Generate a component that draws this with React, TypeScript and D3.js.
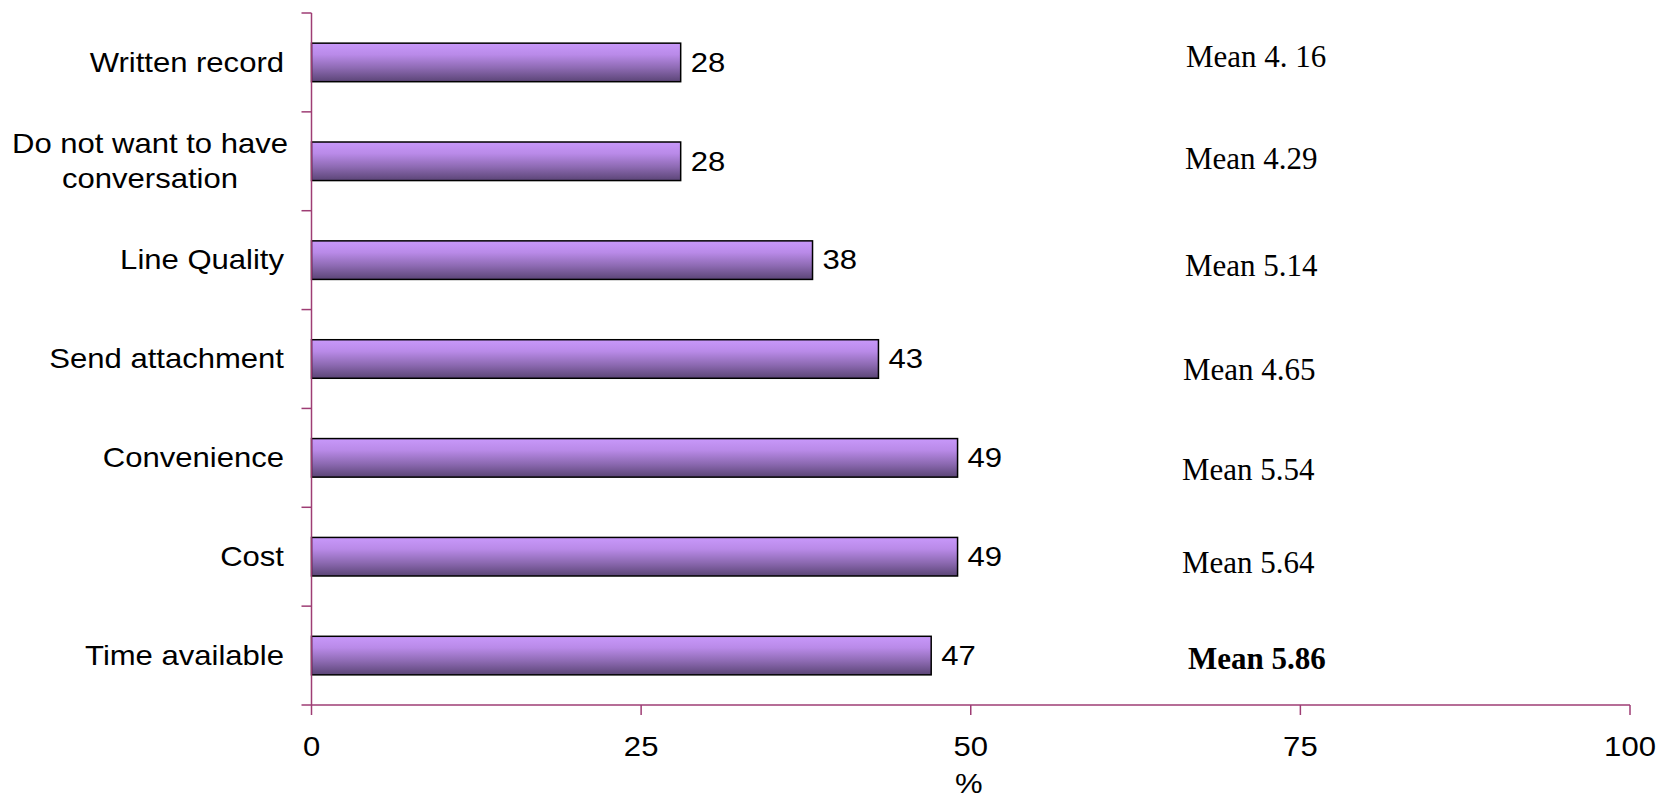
import React from "react";
import * as d3 from "d3";

const categoryLines: string[][] = [
  ["Written record"],
  ["Do not want to have", "conversation"],
  ["Line Quality"],
  ["Send attachment"],
  ["Convenience"],
  ["Cost"],
  ["Time available"],
];
const values = [28, 28, 38, 43, 49, 49, 47];
const meanLabels = [
  "Mean 4. 16",
  "Mean 4.29",
  "Mean 5.14",
  "Mean 4.65",
  "Mean 5.54",
  "Mean 5.64",
  "Mean 5.86",
];
const meanBold = [false, false, false, false, false, false, true];
const xTicks = [0, 25, 50, 75, 100];
const xTitle = "%";

// layout tweaks for the free-floating mean text boxes (pixels)
const meanDx = [1186, 1185, 1185, 1183, 1182, 1182, 1188];
const meanDy = [-6, -3, 5, 10, 12, 6, 3];

const W = 1673;
const H = 797;
const AXIS = "#9E3D74";
const SANS = "Arial, 'Liberation Sans', sans-serif";
const SERIF = "'Times New Roman', 'Liberation Serif', serif";
const SX = 1.15;

export default function App() {
  const keys = categoryLines.map((l) => l.join(" "));
  const x = d3.scaleLinear().domain([0, 100]).range([311.5, 1630]);
  const y = d3
    .scaleBand<string>()
    .domain(keys)
    .range([13, 705])
    .paddingInner(0.61)
    .paddingOuter(0.305);
  const step = y.step();
  const top = 13;
  const bottom = 705;
  const x0 = x(0);

  const stretched = (
    tx: number,
    ty: number,
    txt: string,
    anchor: string,
    key: string,
    size = 27
  ) => (
    <text
      key={key}
      transform={`translate(${tx},${ty}) scale(${SX},1)`}
      textAnchor={anchor as any}
      dominantBaseline="central"
      fontFamily={SANS}
      fontSize={size}
      fill="#000"
    >
      {txt}
    </text>
  );

  return (
    <svg
      width={W}
      height={H}
      style={{ position: "absolute", left: 0, top: 0, background: "#fff" }}
    >
      <defs>
        <linearGradient id="barGrad" x1="0" y1="0" x2="0" y2="1">
          <stop offset="0" stopColor="#C898FA" />
          <stop offset="0.3" stopColor="#B98AE8" />
          <stop offset="0.65" stopColor="#8D6AB2" />
          <stop offset="1" stopColor="#5B4576" />
        </linearGradient>
      </defs>

      {keys.map((k, i) => (
        <rect
          key={"b" + i}
          x={x0}
          y={y(k)!}
          width={x(values[i]) - x0}
          height={y.bandwidth()}
          fill="url(#barGrad)"
          stroke="#000"
          strokeWidth={1.5}
        />
      ))}

      <line x1={x0} x2={x0} y1={top} y2={bottom} stroke={AXIS} strokeWidth={1.5} />
      {d3.range(keys.length + 1).map((i) => (
        <line
          key={"yt" + i}
          x1={x0 - 10}
          x2={x0}
          y1={top + i * step}
          y2={top + i * step}
          stroke={AXIS}
          strokeWidth={1.5}
        />
      ))}

      <line x1={x0} x2={x(100)} y1={bottom} y2={bottom} stroke={AXIS} strokeWidth={1.5} />
      {xTicks.map((t) => (
        <line
          key={"xt" + t}
          x1={x(t)}
          x2={x(t)}
          y1={bottom}
          y2={bottom + 10}
          stroke={AXIS}
          strokeWidth={1.5}
        />
      ))}
      {xTicks.map((t) => stretched(x(t), 747, String(t), "middle", "xl" + t))}
      {stretched(x(50) - 2, 784, xTitle, "middle", "xtitle")}

      {keys.map((k, i) => {
        const cy = y(k)! + y.bandwidth() / 2;
        const lines = categoryLines[i];
        if (lines.length === 1) return stretched(284, cy, lines[0], "end", "cl" + i);
        return lines.map((ln, j) =>
          stretched(
            150,
            cy + (j - (lines.length - 1) / 2) * 35,
            ln,
            "middle",
            "cl" + i + "_" + j
          )
        );
      })}

      {keys.map((k, i) =>
        stretched(x(values[i]) + 10, y(k)! + y.bandwidth() / 2, String(values[i]), "start", "vl" + i)
      )}

      {keys.map((k, i) => (
        <text
          key={"m" + i}
          x={meanDx[i]}
          y={y(k)! + y.bandwidth() / 2 + meanDy[i]}
          dominantBaseline="central"
          fontFamily={SERIF}
          fontSize={31}
          fontWeight={meanBold[i] ? "bold" : "normal"}
          fill="#000"
        >
          {meanLabels[i]}
        </text>
      ))}
    </svg>
  );
}
